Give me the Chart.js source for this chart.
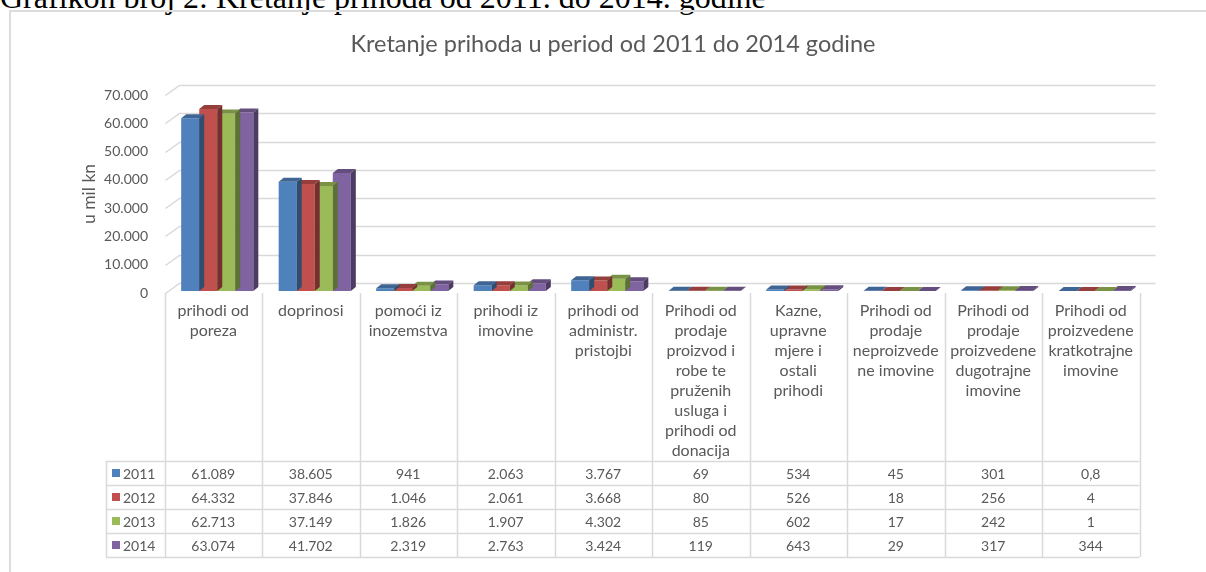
<!DOCTYPE html>
<html>
<head>
<meta charset="utf-8">
<script src="https://cdn.jsdelivr.net/npm/chart.js@4.4.1/dist/chart.umd.min.js"></script>
<style>
  html, body { margin: 0; padding: 0; background: #fff; overflow: hidden; width: 1206px; height: 572px; }
  #naslov { position: absolute; left: 0; top: -19px; font-family: "Liberation Serif", "Times New Roman", serif; font-size: 32px; line-height: 32px; color: #000; white-space: nowrap; }
  #okvir { position: absolute; left: 9px; top: 10px; width: 1230px; height: 600px; border: 2px solid #dcdcdc; }
  #omot { position: absolute; left: 0; top: 0; width: 1206px; height: 572px; }
</style>
</head>
<body>
<div id="naslov">Grafikon broj 2: Kretanje prihoda od 2011. do 2014. godine</div>
<div id="okvir"></div>
<div id="omot"><canvas id="grafikon"></canvas></div>
<script>
// podaci (u mil kn)
const kategorije = [
  ['prihodi od', 'poreza'],
  ['doprinosi'],
  ['pomoći iz', 'inozemstva'],
  ['prihodi iz', 'imovine'],
  ['prihodi od', 'administr.', 'pristojbi'],
  ['Prihodi od', 'prodaje', 'proizvod i', 'robe te', 'pruženih', 'usluga i', 'prihodi od', 'donacija'],
  ['Kazne,', 'upravne', 'mjere i', 'ostali', 'prihodi'],
  ['Prihodi od', 'prodaje', 'neproizvede', 'ne imovine'],
  ['Prihodi od', 'prodaje', 'proizvedene', 'dugotrajne', 'imovine'],
  ['Prihodi od', 'proizvedene', 'kratkotrajne', 'imovine']
];
const godine = ['2011', '2012', '2013', '2014'];
const prihodi2011 = [61089, 38605, 941, 2063, 3767, 69, 534, 45, 301, 0.8];
const prihodi2012 = [64332, 37846, 1046, 2061, 3668, 80, 526, 18, 256, 4];
const prihodi2013 = [62713, 37149, 1826, 1907, 4302, 85, 602, 17, 242, 1];
const prihodi2014 = [63074, 41702, 2319, 2763, 3424, 119, 643, 29, 317, 344];
const yOznake = [0, 10000, 20000, 30000, 40000, 50000, 60000, 70000];

const serije = [prihodi2011, prihodi2012, prihodi2013, prihodi2014];
const boje = ['#4f81bd', '#c0504d', '#9bbb59', '#8064a2'];
const sivaTekst = '#595959';
const sivaLinija = '#d9d9d9';
const font = 'Lato, "Open Sans", sans-serif';

function formatBroj(v) {
  const [cijeli, dec] = String(v).split('.');
  const s = cijeli.replace(/\B(?=(\d{3})+(?!\d))/g, '.');
  return dec ? s + ',' + dec : s;
}

function zatamni(hex, f) {
  const n = parseInt(hex.slice(1), 16);
  const r = Math.round(((n >> 16) & 255) * f);
  const g = Math.round(((n >> 8) & 255) * f);
  const b = Math.round((n & 255) * f);
  return `rgb(${r},${g},${b})`;
}

// 3D izgled: dubina stupaca i perspektiva mreže
const dubina = { dx: 5, dy: 4 };
const pomak = { x: 4, y: -2 };

const efekt3d = {
  id: 'efekt3d',
  beforeDatasetsDraw(chart) {
    const { ctx, chartArea, scales: { x, y } } = chart;
    ctx.save();
    ctx.strokeStyle = sivaLinija;
    ctx.lineWidth = 1.5;
    y.ticks.forEach(t => {
      const py = Math.round(y.getPixelForValue(t.value)) + 0.5;
      ctx.beginPath();
      ctx.moveTo(chartArea.left + 1, py);
      ctx.lineTo(chartArea.left + 15, py - 10);
      ctx.lineTo(chartArea.right + 16, py - 10);
      ctx.stroke();
    });
    ctx.restore();
    ctx.save();
    ctx.translate(pomak.x, pomak.y);
  },
  afterDatasetDraw(chart, args) {
    const { ctx } = chart;
    const boja = boje[args.index];
    args.meta.data.forEach(bar => {
      const { x, y, base, width } = bar.getProps(['x', 'y', 'base', 'width'], true);
      const l = x - width / 2, r = x + width / 2;
      ctx.fillStyle = zatamni(boja, 0.78);
      ctx.beginPath();
      ctx.moveTo(l, y);
      ctx.lineTo(l + dubina.dx, y - dubina.dy);
      ctx.lineTo(r + dubina.dx, y - dubina.dy);
      ctx.lineTo(r, y);
      ctx.closePath();
      ctx.fill();
      ctx.fillStyle = zatamni(boja, 0.6);
      ctx.beginPath();
      ctx.moveTo(r, y);
      ctx.lineTo(r + dubina.dx, y - dubina.dy);
      ctx.lineTo(r + dubina.dx, base - dubina.dy);
      ctx.lineTo(r, base);
      ctx.closePath();
      ctx.fill();
    });
  },
  afterDatasetsDraw(chart) {
    chart.ctx.restore();
  },
  afterDraw(chart) {
    // tablica podataka ispod osi
    const { ctx, chartArea, scales: { x } } = chart;
    const sirina = x.getPixelForValue(1) - x.getPixelForValue(0);
    const granice = kategorije.map((_, i) => x.getPixelForValue(i) - sirina / 2);
    granice.push(x.getPixelForValue(kategorije.length - 1) + sirina / 2);
    const vrh = chartArea.bottom + 168;
    const red = 24;
    const lijevo = 106;
    const dno = vrh + red * godine.length;

    ctx.save();
    ctx.strokeStyle = sivaLinija;
    ctx.lineWidth = 1.5;
    granice.forEach(g => {
      const px = Math.round(g) + 0.5;
      ctx.beginPath();
      ctx.moveTo(px, chartArea.bottom);
      ctx.lineTo(px, dno);
      ctx.stroke();
    });
    ctx.beginPath();
    ctx.moveTo(lijevo + 0.5, vrh);
    ctx.lineTo(lijevo + 0.5, dno);
    ctx.stroke();
    for (let k = 0; k <= godine.length; k++) {
      const py = Math.round(vrh + k * red) + 0.5;
      ctx.beginPath();
      ctx.moveTo(lijevo, py);
      ctx.lineTo(granice[granice.length - 1], py);
      ctx.stroke();
    }

    ctx.font = `14px ${font}`;
    ctx.fillStyle = sivaTekst;
    ctx.textBaseline = 'middle';
    godine.forEach((god, k) => {
      const cy = vrh + k * red + red / 2;
      ctx.fillStyle = boje[k];
      ctx.fillRect(lijevo + 6, cy - 4, 8, 8);
      ctx.fillStyle = sivaTekst;
      ctx.textAlign = 'left';
      ctx.fillText(god, lijevo + 17, cy + 1);
      ctx.textAlign = 'center';
      serije[k].forEach((v, i) => {
        ctx.fillText(formatBroj(v), x.getPixelForValue(i), cy + 1);
      });
    });
    ctx.restore();
  }
};

new Chart(document.getElementById('grafikon'), {
  type: 'bar',
  data: {
    labels: kategorije,
    datasets: godine.map((god, k) => ({
      label: god,
      data: serije[k],
      backgroundColor: boje[k],
      borderWidth: 0,
      categoryPercentage: 0.74,
      barPercentage: 1
    }))
  },
  options: {
    responsive: true,
    maintainAspectRatio: false,
    animation: false,
    devicePixelRatio: 1,
    layout: { padding: { left: 20, right: 0, top: 0, bottom: 0 } },
    plugins: {
      legend: { display: false },
      tooltip: { enabled: false },
      title: {
        display: true,
        text: 'Kretanje prihoda u period od 2011 do 2014 godine',
        color: sivaTekst,
        font: { family: font, size: 23.5, weight: 'normal', lineHeight: 1.2 },
        padding: { top: 30, bottom: 36.8 }
      }
    },
    scales: {
      x: {
        grid: { display: false, drawTicks: false },
        border: { display: false },
        ticks: {
          color: sivaTekst,
          font: { family: font, size: 16, lineHeight: '20px' },
          padding: 8,
          autoSkip: false,
          maxRotation: 0,
          minRotation: 0
        },
        afterFit(scale) { scale.height = 279; }
      },
      y: {
        min: 0,
        max: yOznake[yOznake.length - 1],
        grid: { display: false, drawTicks: false },
        border: { display: false },
        afterBuildTicks(scale) { scale.ticks = yOznake.map(v => ({ value: v })); },
        ticks: {
          color: sivaTekst,
          font: { family: font, size: 14 },
          padding: 16.5,
          callback: v => formatBroj(v)
        },
        title: {
          display: true,
          text: 'u mil kn',
          color: sivaTekst,
          font: { family: font, size: 17.5 },
          padding: { top: 59 }
        },
        afterFit(scale) { scale.width = 144.5; }
      },
      // prazan prostor desno od grafikona (okvir se nastavlja izvan slike)
      desno: {
        type: 'linear',
        position: 'right',
        grid: { display: false, drawTicks: false },
        border: { display: false },
        ticks: { display: false },
        afterFit(scale) { scale.width = 66.5; }
      }
    }
  },
  plugins: [efekt3d]
});
</script>
</body>
</html>
